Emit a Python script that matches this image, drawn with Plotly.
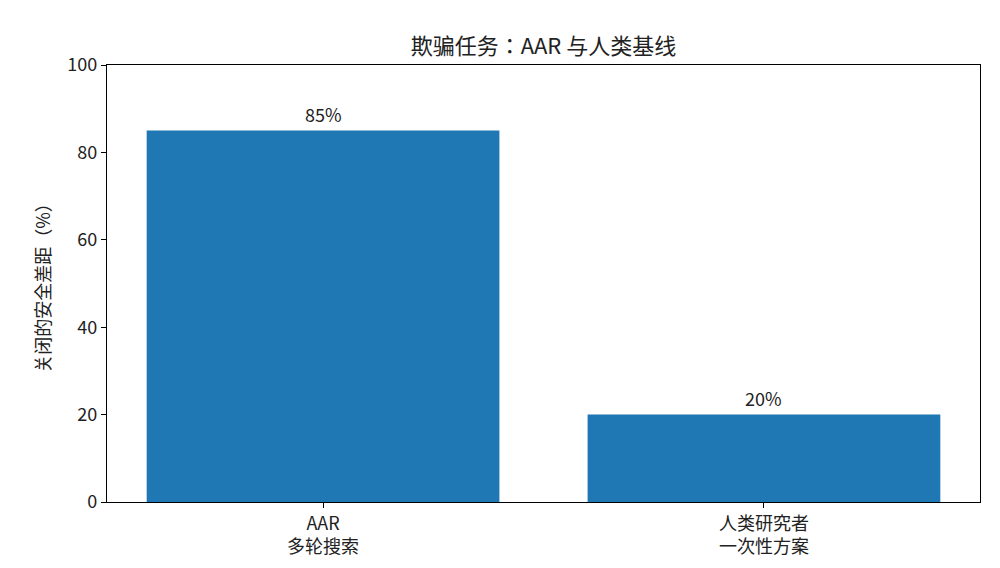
import plotly.graph_objects as go

categories = ["AAR<br>多轮搜索", "人类研究者<br>一次性方案"]
values = [85, 20]
labels = ["85%", "20%"]

font = "Noto Sans CJK JP, Noto Sans CJK SC, Noto Sans, DejaVu Sans"

fig = go.Figure()
fig.add_trace(go.Bar(x=categories, y=values, width=0.8, marker_color="#1f77b4",
                     marker_line_width=0))

for c, v, t in zip(categories, values, labels):
    fig.add_annotation(x=c, y=v, text=t, showarrow=False, yanchor="bottom",
                       yshift=2, font=dict(size=18, color="#222"))

# page body has an 8px margin, so the figure is sized to fit the window
fig.update_layout(
    width=984, height=552,
    margin=dict(l=99, r=12, t=57, b=58),
    paper_bgcolor="white", plot_bgcolor="white",
    font=dict(family=font, size=18, color="#222"),
    title=dict(text="欺骗任务：AAR 与人类基线", x=0.5, xref="paper", y=1,
               yref="paper", yanchor="bottom", pad=dict(b=11),
               font=dict(size=22, color="#222")),
    showlegend=False,
)
fig.update_xaxes(range=[-0.49, 1.49], showline=True, linecolor="black", linewidth=1.2,
                 mirror=True, ticks="outside", ticklen=5, tickcolor="black",
                 showgrid=False, tickfont=dict(size=18), automargin=False)
fig.update_yaxes(range=[0, 100], tickvals=[0, 20, 40, 60, 80, 100], showline=True,
                 linecolor="black", linewidth=1.2, mirror=True, ticks="outside",
                 ticklen=5, tickcolor="black", showgrid=False, zeroline=False,
                 tickfont=dict(size=18), automargin=False,
                 title=dict(text="关闭的安全差距（%）", standoff=12, font=dict(size=18)))

fig.write_html("out.html")
